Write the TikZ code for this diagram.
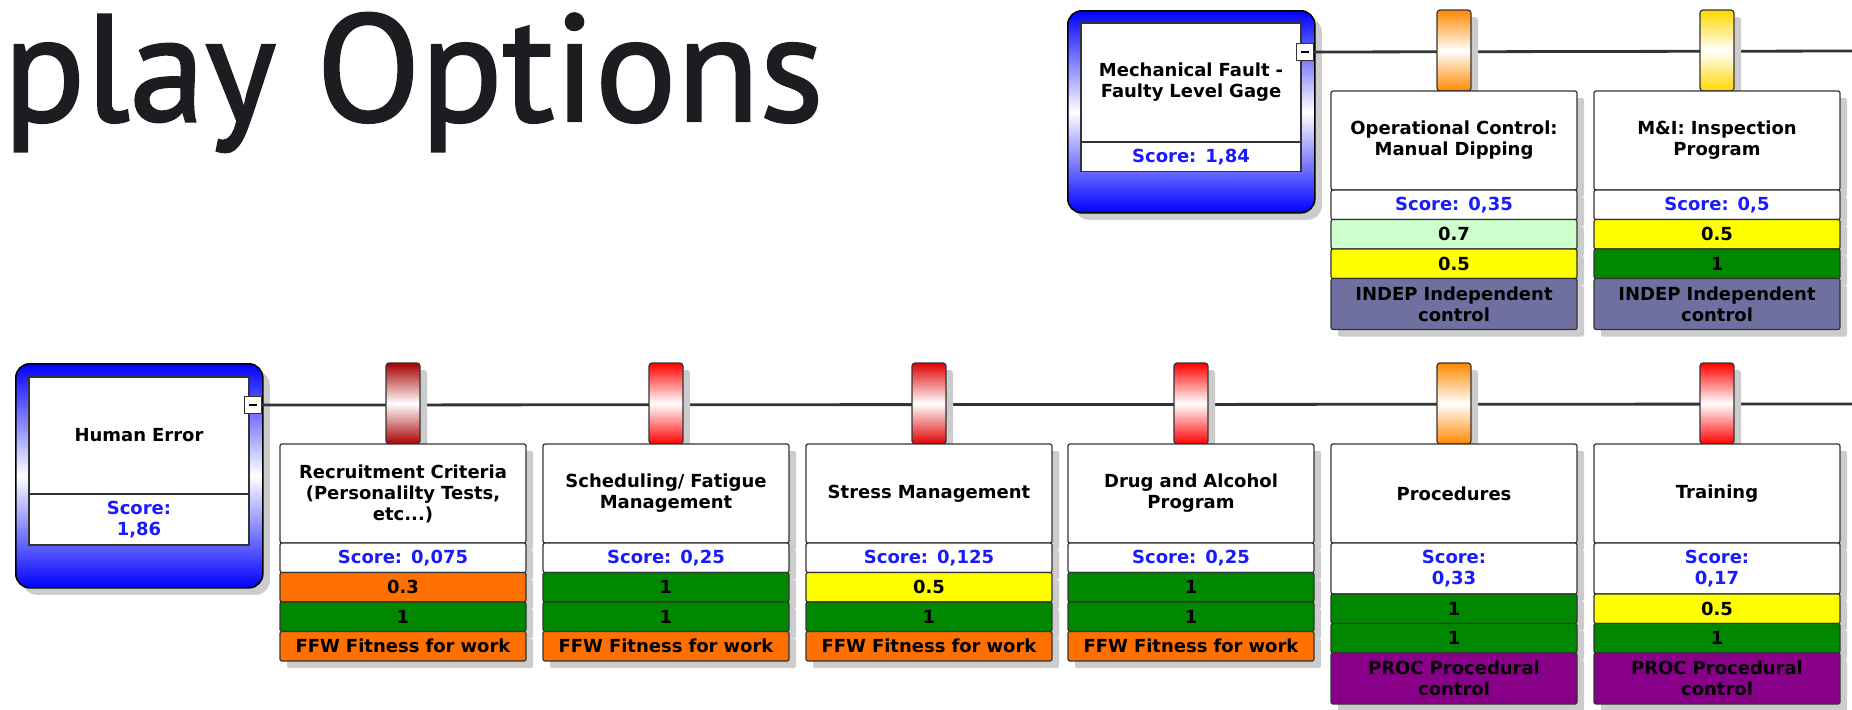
\documentclass[tikz,border=0pt]{standalone}
\usepackage{fontspec}
\setmainfont{DejaVu Sans}
\newfontfamily\headfont[FakeBold=1.6]{PT Sans}
\usepackage{xcolor}
\usetikzlibrary{positioning,shadows}

\definecolor{scoreblue}{HTML}{1A1AFF}
\definecolor{okgreen}{HTML}{008800}
\definecolor{lowyellow}{HTML}{FFFF00}
\definecolor{palegreen}{HTML}{CCFFCC}
\definecolor{ffworange}{HTML}{FF7000}
\definecolor{procpurple}{HTML}{880088}
\definecolor{indepgrey}{HTML}{7070A0}
\definecolor{edge}{HTML}{333333}
\definecolor{darkred}{HTML}{A80000}
\definecolor{tabred}{HTML}{FF0000}
\definecolor{stressred}{HTML}{E00000}
\definecolor{taborange}{HTML}{FF8800}
\definecolor{tabgold}{HTML}{FFD800}
\definecolor{headink}{HTML}{1E1C21}

\begin{document}
\begin{tikzpicture}[x=0.5pt,y=-0.5pt,
    box/.style={draw=edge,line width=0.6pt,outer sep=0pt,align=center,
      font=\bfseries\fontsize{9}{10.5}\selectfont},
    lift/.style={drop shadow={shadow xshift=3.5pt,shadow yshift=-3.5pt,
      fill=black!20,opacity=1}},
    parent/.style={draw=black,line width=0.8pt,rounded corners=7pt,
      minimum width=123.5pt,minimum height=#1,anchor=north west,
      top color=blue,bottom color=blue,middle color=white,lift},
    ptitle/.style={box,fill=white,minimum width=110pt,minimum height=#1,
      text width=100pt,anchor=north west},
    pscore/.style={box,fill=white,text=scoreblue,minimum width=110pt,
      minimum height=#1,text width=100pt},
    minus/.style={draw=edge,fill=white,line width=0.5pt,minimum size=8.5pt,
      inner sep=0pt,outer sep=0pt},
    wire/.style={draw=edge,line width=1.4pt},
    tab/.style={draw=edge,line width=0.6pt,rounded corners=1.5pt,
      minimum width=17pt,minimum height=40.5pt,inner sep=0pt,outer sep=0pt,
      anchor=north,top color=#1,bottom color=#1,middle color=white,lift},
    ctitle/.style={box,fill=white,minimum width=123pt,minimum height=49.5pt,
      text width=115pt,rounded corners=1pt,lift},
    score/.style={box,fill=white,text=scoreblue,minimum width=123pt,
      minimum height=14.75pt,text width=115pt,rounded corners=1pt,lift},
    cell/.style={box,fill=#1,minimum width=123pt,minimum height=14.75pt,
      text width=115pt,rounded corners=1pt,lift},
    tall/.style={minimum height=25.5pt},
    node distance=0pt
  ]
    \useasboundingbox (0,0) rectangle (1852,709);
    \node[anchor=base east,inner sep=0pt,text=headink,
      font=\headfont\fontsize{76}{80}\selectfont] (head) at (824,121) {play Options};

    % top threat
    \node[parent=101pt] (mech) at (1067,10) {};
    \node[ptitle=59.5pt] (mechTitle) at (1081,23) {Mechanical Fault -\\Faulty Level Gage};
    \node[pscore=14.5pt,below=of mechTitle] (mechScore) {Score: 1,84};
    \node[minus] (mechMin) at (1305,52) {\rule{4pt}{0.9pt}};
    \coordinate (mechEnd) at (1852,51);
    \draw[wire] (mechMin.east) -- (mechEnd);

    \node[tab=taborange] (opctlTab) at (1454,10) {};
    \node[ctitle,below=of opctlTab] (opctl) {Operational Control:\\Manual Dipping};
    \node[score,below=of opctl] (opctlScore) {Score: 0,35};
    \node[cell=palegreen,below=of opctlScore] (opctlA) {0.7};
    \node[cell=lowyellow,below=of opctlA] (opctlB) {0.5};
    \node[cell=indepgrey,tall,below=of opctlB] (opctlCat) {INDEP Independent\\control};

    \node[tab=tabgold] (inspTab) at (1717,10) {};
    \node[ctitle,below=of inspTab] (insp) {M\&I: Inspection\\Program};
    \node[score,below=of insp] (inspScore) {Score: 0,5};
    \node[cell=lowyellow,below=of inspScore] (inspA) {0.5};
    \node[cell=okgreen,below=of inspA] (inspB) {1};
    \node[cell=indepgrey,tall,below=of inspB] (inspCat) {INDEP Independent\\control};

    % bottom threat
    \node[parent=112pt] (human) at (15,363) {};
    \node[ptitle=58.5pt] (humanTitle) at (29,377) {Human Error};
    \node[pscore=25.5pt,below=of humanTitle] (humanScore) {Score:\\1,86};
    \node[minus] (humanMin) at (253,405) {\rule{4pt}{0.9pt}};
    \coordinate (humanEnd) at (1852,404);
    \draw[wire] (humanMin.east) -- (humanEnd);

    \node[tab=darkred] (recruitTab) at (403,363) {};
    \node[ctitle,below=of recruitTab] (recruit) {Recruitment Criteria\\(Personalilty Tests,\\etc...)};
    \node[score,below=of recruit] (recruitScore) {Score: 0,075};
    \node[cell=ffworange,below=of recruitScore] (recruitA) {0.3};
    \node[cell=okgreen,below=of recruitA] (recruitB) {1};
    \node[cell=ffworange,below=of recruitB] (recruitCat) {FFW Fitness for work};

    \node[tab=tabred] (schedTab) at (666,363) {};
    \node[ctitle,below=of schedTab] (sched) {Scheduling/ Fatigue\\Management};
    \node[score,below=of sched] (schedScore) {Score: 0,25};
    \node[cell=okgreen,below=of schedScore] (schedA) {1};
    \node[cell=okgreen,below=of schedA] (schedB) {1};
    \node[cell=ffworange,below=of schedB] (schedCat) {FFW Fitness for work};

    \node[tab=stressred] (stressTab) at (929,363) {};
    \node[ctitle,below=of stressTab] (stress) {Stress Management};
    \node[score,below=of stress] (stressScore) {Score: 0,125};
    \node[cell=lowyellow,below=of stressScore] (stressA) {0.5};
    \node[cell=okgreen,below=of stressA] (stressB) {1};
    \node[cell=ffworange,below=of stressB] (stressCat) {FFW Fitness for work};

    \node[tab=tabred] (drugTab) at (1191,363) {};
    \node[ctitle,below=of drugTab] (drug) {Drug and Alcohol\\Program};
    \node[score,below=of drug] (drugScore) {Score: 0,25};
    \node[cell=okgreen,below=of drugScore] (drugA) {1};
    \node[cell=okgreen,below=of drugA] (drugB) {1};
    \node[cell=ffworange,below=of drugB] (drugCat) {FFW Fitness for work};

    \node[tab=taborange] (procTab) at (1454,363) {};
    \node[ctitle,below=of procTab] (proc) {Procedures};
    \node[score,tall,below=of proc] (procScore) {Score:\\0,33};
    \node[cell=okgreen,below=of procScore] (procA) {1};
    \node[cell=okgreen,below=of procA] (procB) {1};
    \node[cell=procpurple,tall,below=of procB] (procCat) {PROC Procedural\\control};

    \node[tab=tabred] (trainTab) at (1717,363) {};
    \node[ctitle,below=of trainTab] (train) {Training};
    \node[score,tall,below=of train] (trainScore) {Score:\\0,17};
    \node[cell=lowyellow,below=of trainScore] (trainA) {0.5};
    \node[cell=okgreen,below=of trainA] (trainB) {1};
    \node[cell=procpurple,tall,below=of trainB] (trainCat) {PROC Procedural\\control};
  \end{tikzpicture}
\end{document}
